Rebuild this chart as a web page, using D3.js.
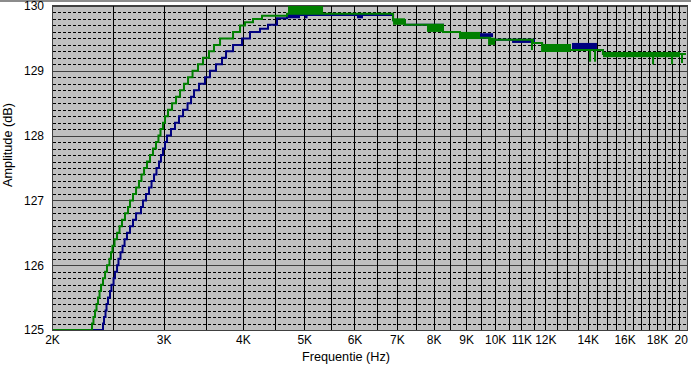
<!DOCTYPE html>
<html>
<head>
<meta charset="utf-8">
<script src="https://cdn.jsdelivr.net/npm/d3@7"></script>
<style>
    body { margin: 0; background: #fff; }
    svg { display: block; font-family: "Liberation Sans", Arial, sans-serif; }
</style>
</head>
<body>
<div id="chart"></div>
<script>
// Tick values and labels (the last label is cut at the window edge in the original)
var freqTicks = [2000, 3000, 4000, 5000, 6000, 7000, 8000, 9000, 10000, 11000, 12000, 14000, 16000, 18000, 20000];
var freqLabels = ["2K", "3K", "4K", "5K", "6K", "7K", "8K", "9K", "10K", "11K", "12K", "14K", "16K", "18K", "20"];
var dbTicks = [125, 126, 127, 128, 129, 130];

// Green series (frequency in Hz, amplitude in dB)
var greenFreq = [2000, 2313, 2325, 2338, 2351, 2364, 2377, 2390, 2407, 2425, 2442, 2464, 2478, 2491, 2510, 2533,
    2556, 2579, 2607, 2636, 2655, 2684, 2714, 2743, 2768, 2794, 2824, 2855, 2886, 2918, 2944, 2966, 2993, 3015,
    3048, 3093, 3138, 3184, 3230, 3278, 3332, 3399, 3461, 3537, 3602, 3682, 3860, 3959, 4031, 4150, 4288, 4696,
    6902, 7208, 8274, 8802, 9818, 11472, 11858, 13124, 14793, 20000];
var greenDb = [125.0, 125.1, 125.2, 125.3, 125.4, 125.5, 125.6, 125.7, 125.8, 125.9, 126.0, 126.1, 126.2, 126.3,
    126.4, 126.5, 126.6, 126.7, 126.8, 126.9, 127.0, 127.1, 127.2, 127.3, 127.4, 127.5, 127.6, 127.7, 127.8, 127.9,
    128.0, 128.1, 128.2, 128.3, 128.4, 128.5, 128.6, 128.7, 128.8, 128.9, 129.0, 129.1, 129.2, 129.3, 129.4, 129.5,
    129.6, 129.7, 129.75, 129.8, 129.85, 129.88, 129.78, 129.71, 129.6, 129.51, 129.48, 129.43, 129.4, 129.32,
    129.26, 129.26];

// Blue series
var blueFreq = [2000, 2407, 2416, 2429, 2438, 2451, 2469, 2482, 2501, 2514, 2533, 2546, 2565, 2584, 2603, 2626,
    2655, 2684, 2714, 2763, 2783, 2814, 2845, 2871, 2897, 2923, 2950, 2971, 2993, 3015, 3037, 3081, 3126, 3172,
    3219, 3272, 3314, 3350, 3411, 3486, 3550, 3628, 3708, 3763, 3860, 3988, 4105, 4257, 4383, 4528, 4696, 6902,
    7208, 8274, 8802, 9818, 11472, 11858, 13124, 14793, 20000];
var blueDb = [125.0, 125.1, 125.2, 125.3, 125.4, 125.5, 125.6, 125.7, 125.8, 125.9, 126.0, 126.1, 126.2, 126.3,
    126.4, 126.5, 126.6, 126.7, 126.8, 126.9, 127.0, 127.1, 127.2, 127.3, 127.4, 127.5, 127.6, 127.7, 127.8, 127.9,
    128.0, 128.1, 128.2, 128.3, 128.4, 128.5, 128.6, 128.7, 128.8, 128.9, 129.0, 129.1, 129.2, 129.3, 129.4, 129.5,
    129.6, 129.65, 129.71, 129.81, 129.86, 129.78, 129.71, 129.6, 129.51, 129.48, 129.43, 129.4, 129.32, 129.26,
    129.26];

// Noisy blocks where the trace jumps between two levels: [from Hz, to Hz, top dB, bottom dB]
var greenBands = [
    [4713, 5352, 130.0, 129.88],
    [6902, 7208, 129.81, 129.71],
    [7808, 8274, 129.71, 129.6],
    [8802, 9464, 129.6, 129.49],
    [9746, 9996, 129.51, 129.4],
    [11858, 13124, 129.4, 129.29],
    [14793, 19568, 129.29, 129.21]
];
var blueBands = [
    [4696, 4923, 129.89, 129.81],
    [5010, 5060, 129.89, 129.81],
    [6054, 6188, 129.89, 129.81],
    [9464, 9924, 129.58, 129.52],
    [10634, 11558, 129.49, 129.43],
    [13220, 14474, 129.43, 129.32],
    [17546, 19568, 129.29, 129.24]
];
// Single downward spikes of the green trace: [Hz, top dB, bottom dB]
var greenSpikes = [
    [11430, 129.48, 129.32],
    [11858, 129.43, 129.29],
    [14116, 129.32, 129.14],
    [14374, 129.32, 129.14],
    [17744, 129.26, 129.1],
    [19011, 129.26, 129.1],
    [19711, 129.26, 129.12]
];

var width = 691;
var height = 367;

var svg = d3.select("#chart").append("svg")
    .attr("width", width)
    .attr("height", height)
    .style("overflow", "hidden");

svg.append("rect")
    .attr("width", width)
    .attr("height", height)
    .attr("fill", "#fff");

// thin frame line at the very top
svg.append("rect")
    .attr("x", 0).attr("y", 0)
    .attr("width", width).attr("height", 2)
    .attr("fill", "#8c8c8c");

var xScale = d3.scaleLog()
    .domain([2000, 20000])
    .range([52, 686]);

var yScale = d3.scaleLinear()
    .domain([125, 130])
    .range([330, 6]);

// Plot background
svg.append("rect")
    .attr("x", 52)
    .attr("y", 5)
    .attr("width", 636)
    .attr("height", 326)
    .attr("fill", "#c0c0c0");

// Minor horizontal grid (every 0.1 dB), dashed
var minorDb = d3.range(1, 50).filter(d => d % 10 !== 0).map(d => 125 + d / 10);
svg.append("g")
    .selectAll("line")
    .data(minorDb)
    .enter().append("line")
    .attr("x1", 53)
    .attr("x2", 688)
    .attr("y1", d => Math.round(yScale(d)) + 0.5)
    .attr("y2", d => Math.round(yScale(d)) + 0.5)
    .attr("stroke", "#000")
    .attr("stroke-dasharray", "3,2");

// Major horizontal grid (every dB)
svg.append("g")
    .selectAll("line")
    .data(dbTicks)
    .enter().append("line")
    .attr("x1", 53)
    .attr("x2", 688)
    .attr("y1", d => Math.round(yScale(d)) + 0.5)
    .attr("y2", d => Math.round(yScale(d)) + 0.5)
    .attr("stroke", "#404040");

// Vertical grid every 500 Hz
var vGrid = d3.range(2500, 20000, 500);
svg.append("g")
    .selectAll("line")
    .data(vGrid)
    .enter().append("line")
    .attr("x1", d => Math.round(xScale(d)) + 0.5)
    .attr("x2", d => Math.round(xScale(d)) + 0.5)
    .attr("y1", 5)
    .attr("y2", 331)
    .attr("stroke", "#000");

// Series
var line = d3.line()
    .x(d => xScale(d[0]))
    .y(d => yScale(d[1]))
    .curve(d3.curveStepAfter);

function drawSeries(freqs, dbs, bands, color) {
    var pts = freqs.map((f, i) => [f, dbs[i]]);
    svg.append("path")
        .datum(pts)
        .attr("d", line)
        .attr("fill", "none")
        .attr("stroke", color)
        .attr("stroke-width", 2);

    svg.append("g")
        .selectAll("rect")
        .data(bands)
        .enter().append("rect")
        .attr("x", d => xScale(d[0]))
        .attr("y", d => yScale(d[2]))
        .attr("width", d => xScale(d[1]) - xScale(d[0]))
        .attr("height", d => yScale(d[3]) - yScale(d[2]))
        .attr("fill", color);
}

drawSeries(blueFreq, blueDb, blueBands, "#000080");
drawSeries(greenFreq, greenDb, greenBands, "#008000");

svg.append("g")
    .selectAll("line")
    .data(greenSpikes)
    .enter().append("line")
    .attr("x1", d => xScale(d[0]))
    .attr("x2", d => xScale(d[0]))
    .attr("y1", d => yScale(d[1]))
    .attr("y2", d => yScale(d[2]))
    .attr("stroke", "#008000")
    .attr("stroke-width", 2);

// Plot border
svg.append("rect")
    .attr("x", 52.5)
    .attr("y", 5.5)
    .attr("width", 635)
    .attr("height", 325)
    .attr("fill", "none")
    .attr("stroke", "#404040");

// Axes
var xAxis = d3.axisBottom(xScale)
    .tickValues(freqTicks)
    .tickFormat((d, i) => freqLabels[i])
    .tickSize(0)
    .tickPadding(0);

var xAxisG = svg.append("g")
    .attr("transform", "translate(0,335)")
    .call(xAxis)
    .call(g => g.select(".domain").remove());

xAxisG.selectAll("text")
    .attr("fill", "#000")
    .style("font-size", "12px");

// the cut-off last label sits left-aligned just inside the edge
xAxisG.selectAll("text")
    .filter((d, i) => i === freqTicks.length - 1)
    .attr("text-anchor", "start")
    .attr("dx", -12);

var yAxis = d3.axisLeft(yScale)
    .tickValues(dbTicks)
    .tickFormat(d3.format("d"))
    .tickSize(0)
    .tickPadding(0);

svg.append("g")
    .attr("transform", "translate(44,0)")
    .call(yAxis)
    .call(g => g.select(".domain").remove())
    .selectAll("text")
    .attr("fill", "#000")
    .style("font-size", "12px");

// Axis titles
svg.append("text")
    .attr("x", 346)
    .attr("y", 361)
    .attr("text-anchor", "middle")
    .style("font-size", "12.7px")
    .text("Frequentie (Hz)");

svg.append("text")
    .attr("transform", "translate(12,145) rotate(-90)")
    .attr("text-anchor", "middle")
    .style("font-size", "12.7px")
    .text("Amplitude (dB)");
</script>
</body>
</html>
